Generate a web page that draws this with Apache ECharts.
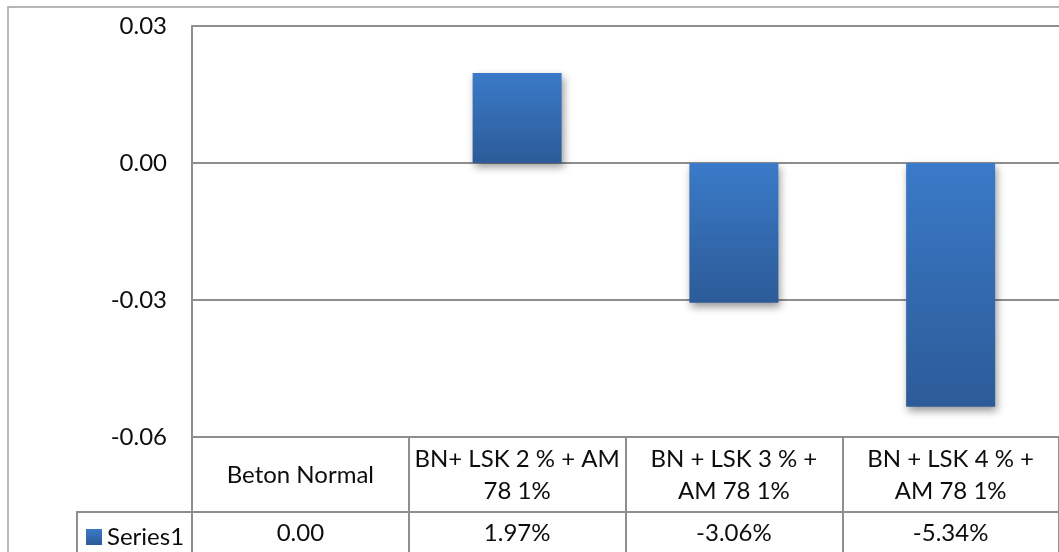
<!DOCTYPE html>
<html>
<head>
<meta charset="utf-8">
<script src="https://cdn.jsdelivr.net/npm/echarts@6/dist/echarts.min.js"></script>
<style>
  html, body { margin: 0; padding: 0; background: #fff; }
  #chart { width: 1059px; height: 552px; }
</style>
</head>
<body>
<div id="chart"></div>
<script>
// Mix designs compared against normal concrete (header cells of the data table)
const categories = [
  'Beton Normal',
  'BN+ LSK 2 % + AM\n78 1%',
  'BN + LSK 3 % +\nAM 78 1%',
  'BN + LSK 4 % +\nAM 78 1%'
];
// Relative change (fraction) per mix
const series1 = [0, 0.0197, -0.0306, -0.0534];
const seriesName = 'Series1';
// Value axis ticks
const yMin = -0.06;
const yMax = 0.03;
const yStep = 0.03;

const FONT = 'Lato';
const TEXT = '#0d0d0d';
const LINE = '#8e8e8e';

const barFill = new echarts.graphic.LinearGradient(0, 0, 0, 1, [
  { offset: 0, color: '#3a7ac8' },
  { offset: 1, color: '#2c5b98' }
]);

function tableValue(v) {
  return v === 0 ? '0.00' : (v * 100).toFixed(2) + '%';
}

const chart = echarts.init(document.getElementById('chart'), null, { renderer: 'canvas' });

chart.setOption({
  animation: false,
  backgroundColor: '#fff',
  textStyle: { fontFamily: FONT },
  grid: { left: 192, top: 26, width: 872, height: 411, containLabel: false },
  legend: {
    left: 86, top: 525,
    itemWidth: 16, itemHeight: 16,
    itemGap: 5,
    icon: 'rect',
    padding: 0,
    textStyle: { fontFamily: FONT, fontSize: 24, color: TEXT, padding: [0, 0, 0, 0] },
    data: [seriesName]
  },
  xAxis: [
    {
      // category header row of the data table
      type: 'category',
      data: categories,
      position: 'bottom',
      axisLine: { show: true, onZero: false, lineStyle: { color: LINE, width: 2 } },
      axisTick: { show: true, length: 118, lineStyle: { color: LINE, width: 2 } },
      axisLabel: {
        interval: 0,
        margin: 38,
        verticalAlign: 'middle',
        fontFamily: FONT, fontSize: 24, color: TEXT,
        lineHeight: 32,
        align: 'center'
      },
      splitLine: { show: false }
    },
    {
      // value row of the data table
      type: 'category',
      data: categories,
      position: 'bottom',
      offset: 75,
      axisLine: { show: true, onZero: false, lineStyle: { color: LINE, width: 2 } },
      axisTick: { show: false },
      axisLabel: {
        interval: 0,
        margin: 21,
        verticalAlign: 'middle',
        fontFamily: FONT, fontSize: 24, color: TEXT,
        formatter: (v, i) => tableValue(series1[i])
      },
      splitLine: { show: false }
    }
  ],
  yAxis: {
    type: 'value',
    min: yMin, max: yMax, interval: yStep,
    axisLine: { show: true, lineStyle: { color: LINE, width: 2 } },
    axisTick: { show: false },
    axisLabel: {
      margin: 25,
      fontFamily: FONT, fontSize: 24, color: TEXT,
      formatter: v => v.toFixed(2)
    },
    splitLine: { show: true, lineStyle: { color: LINE, width: 2 } }
  },
  series: [{
    name: seriesName,
    type: 'bar',
    xAxisIndex: 0,
    data: series1,
    barWidth: 89,
    itemStyle: {
      color: barFill,
      shadowColor: 'rgba(0,0,0,0.4)',
      shadowBlur: 8,
      shadowOffsetX: 2,
      shadowOffsetY: 4
    }
  }],
  graphic: [
    // chart frame
    { type: 'rect', z: -1, silent: true,
      shape: { x: 8, y: 7, width: 1200, height: 700 },
      style: { fill: null, stroke: '#a0a0a0', lineWidth: 1.5 } },
    // legend key cell of the data table
    { type: 'line', silent: true,
      shape: { x1: 77, y1: 512, x2: 192, y2: 512 },
      style: { stroke: LINE, lineWidth: 2 } },
    { type: 'line', silent: true,
      shape: { x1: 77, y1: 511, x2: 77, y2: 560 },
      style: { stroke: LINE, lineWidth: 2 } }
  ]
});
</script>
</body>
</html>
